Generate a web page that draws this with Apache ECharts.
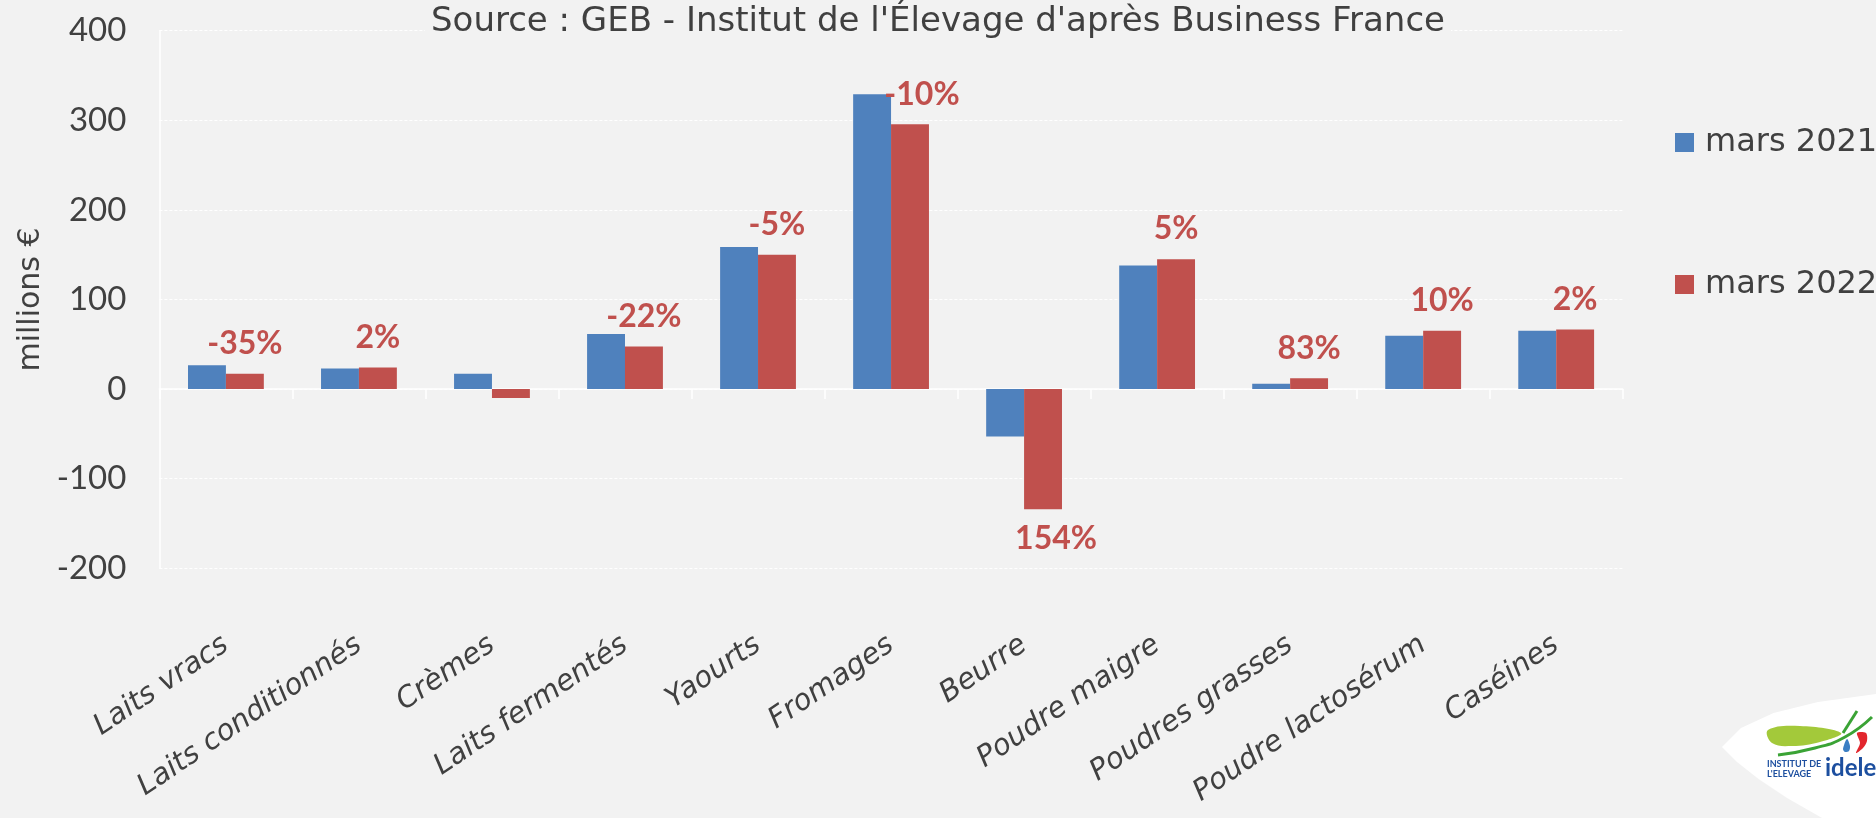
<!DOCTYPE html>
<html lang="fr">
<head>
  <meta charset="UTF-8" />
  <meta name="viewport" content="width=device-width, initial-scale=1.0" />
  <title>Exportations de produits laitiers</title>
  <script src="https://cdn.jsdelivr.net/npm/echarts@6.0.0/dist/echarts.min.js"></script>
  <style>
    html, body { margin: 0; padding: 0; background: #f2f2f2; }
  </style>
</head>
<body>
  <div id="main" style="width: 1876px; height: 818px;"></div>
  <script type="text/javascript">
    // categories and values (millions €)
    const categories = ['Laits vracs', 'Laits conditionnés', 'Crèmes', 'Laits fermentés', 'Yaourts', 'Fromages',
      'Beurre', 'Poudre maigre', 'Poudres grasses', 'Poudre lactosérum', 'Caséines'];
    const mars2021 = [26.5, 23, 17, 61.5, 158.5, 329, -53, 138, 6, 59.5, 65];
    const mars2022 = [17, 24, -10, 47.5, 150, 295.5, -134, 145, 12, 65, 66.5];
    // evolution labels shown above the 2022 bars
    const evolution = ['-35%', '2%', '', '-22%', '-5%', '-10%', '154%', '5%', '83%', '10%', '2%'];
    const yMin = -200, yMax = 400, yStep = 100;

    // colours and fonts
    const bgColor = '#f2f2f2';
    const blue = '#4f81bd';
    const red = '#c0504d';
    const textColor = '#404040';
    const font = '"DejaVu Sans", sans-serif';
    const narrowFont = 'Lato, sans-serif';

    // a couple of labels sit a little to the right in the original
    const labelShiftX = [0, 0, 0, 0, 0, 12, 13, 0, 0, 0, 0];

    const redData = mars2022.map(function (v, i) {
      return {
        value: v,
        label: {
          show: evolution[i] !== '',
          formatter: evolution[i],
          position: v < 0 ? 'bottom' : 'top',
          offset: [labelShiftX[i], 0]
        }
      };
    });

    const legendText = { fontFamily: font, fontSize: 32, color: textColor, lineHeight: 19, padding: [0, 0, 0, 6] };

    const chart = echarts.init(document.getElementById('main'));
    chart.setOption({
      backgroundColor: bgColor,
      animation: false,
      title: {
        text: "Source : GEB - Institut de l'Élevage d'après Business France",
        left: 'center',
        top: 5,
        padding: [0, 6],
        backgroundColor: bgColor,
        textStyle: { fontFamily: font, fontSize: 34, fontWeight: 'normal', color: textColor }
      },
      legend: [
        { data: ['mars 2021'], left: 1670, top: 121.5, itemWidth: 19, itemHeight: 19, icon: 'rect', textStyle: legendText },
        { data: ['mars 2022'], left: 1670, top: 263.5, itemWidth: 19, itemHeight: 19, icon: 'rect', textStyle: legendText }
      ],
      grid: { left: 159.4, right: 253.3, top: 30.7, bottom: 249.7, containLabel: false },
      xAxis: [
        {
          // axis line on zero, with ticks
          type: 'category',
          data: categories,
          position: 'bottom',
          axisLine: { show: true, onZero: true, lineStyle: { color: '#ffffff', width: 1.5 } },
          axisTick: { show: true, length: 10, lineStyle: { color: '#ffffff', width: 1.5 } },
          axisLabel: { show: false },
          splitLine: { show: false }
        },
        {
          // labels at the bottom of the plot
          type: 'category',
          data: categories,
          position: 'bottom',
          axisLine: { show: false, onZero: false },
          axisTick: { show: false },
          axisLabel: {
            interval: 0, rotate: 34, margin: 74,
            fontFamily: font, fontStyle: 'italic', fontSize: 29, color: textColor
          }
        }
      ],
      yAxis: {
        type: 'value',
        min: yMin, max: yMax, interval: yStep,
        name: 'millions €',
        nameLocation: 'middle',
        nameGap: 108,
        nameRotate: 90,
        nameTextStyle: { fontFamily: font, fontSize: 30, color: textColor },
        axisLine: { show: true, lineStyle: { color: '#ffffff', width: 1.5 } },
        axisTick: { show: false },
        axisLabel: { margin: 33, fontFamily: narrowFont, fontSize: 33, color: textColor },
        splitLine: { lineStyle: { color: '#ffffff', type: [3, 2], width: 1 } }
      },
      series: [
        {
          name: 'mars 2021',
          type: 'bar',
          xAxisIndex: 0,
          data: mars2021,
          itemStyle: { color: blue },
          barGap: '0%',
          barCategoryGap: '43%'
        },
        {
          name: 'mars 2022',
          type: 'bar',
          xAxisIndex: 0,
          data: redData,
          itemStyle: { color: red },
          barGap: '0%',
          barCategoryGap: '43%',
          label: {
            distance: 14,
            fontFamily: narrowFont, fontSize: 32, fontWeight: 'bold', color: red
          }
        }
      ],
      // institute logo, bottom right
      graphic: [
        {
          type: 'polygon', z: 10,
          shape: { points: [[1722, 747], [1741, 728], [1773.5, 713], [1818, 702], [1876, 694], [1876, 818],
            [1822, 818], [1787, 798], [1758.5, 779], [1737, 762]] },
          style: { fill: '#ffffff' }
        },
        {
          type: 'polygon', z: 11,
          shape: { points: [[1768, 730], [1800, 726], [1841, 733], [1820, 742], [1792, 746], [1772, 743]], smooth: 0.4 },
          style: { fill: '#a3c93a' }
        },
        {
          type: 'polyline', z: 11,
          shape: { points: [[1778, 755], [1815, 748], [1845, 737], [1872, 717]], smooth: 0.5 },
          style: { stroke: '#3aa335', lineWidth: 3 }
        },
        {
          type: 'line', z: 11,
          shape: { x1: 1857, y1: 711, x2: 1843, y2: 733 },
          style: { stroke: '#3aa335', lineWidth: 3 }
        },
        {
          type: 'polygon', z: 11,
          shape: { points: [[1857, 733], [1866, 733], [1867, 741], [1863, 748], [1856, 753], [1860, 743]], smooth: 0.3 },
          style: { fill: '#e2262d' }
        },
        {
          type: 'polygon', z: 11,
          shape: { points: [[1847, 739], [1850, 746], [1849, 751], [1845, 752], [1843, 749]], smooth: 0.3 },
          style: { fill: '#3b7fc4' }
        },
        {
          type: 'text', z: 11, left: 1767, top: 760,
          style: { text: 'INSTITUT DE', fill: '#1d4f9f', font: 'bold 9px Lato' }
        },
        {
          type: 'text', z: 11, left: 1767, top: 770,
          style: { text: "L'ELEVAGE", fill: '#1d4f9f', font: 'bold 9px Lato' }
        },
        {
          type: 'text', z: 11, left: 1825, top: 756,
          style: { text: 'idele', fill: '#1d4f9f', font: 'bold 24px Lato' }
        }
      ]
    });
  </script>
</body>
</html>
